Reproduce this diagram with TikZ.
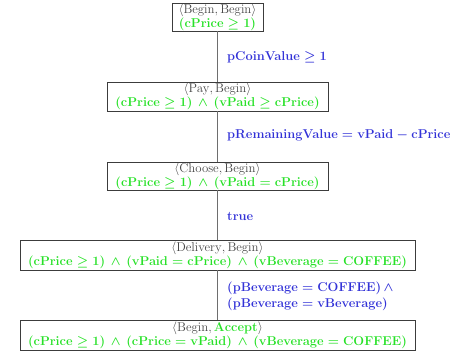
\RequirePackage{fix-cm}
\documentclass[tikz,border=0pt]{standalone}
\usepackage{amsmath,amssymb}
\definecolor{stgreen}{RGB}{40,225,40}
\definecolor{lblblue}{RGB}{50,50,215}
\definecolor{stgray}{RGB}{70,70,70}
\definecolor{boxgray}{RGB}{60,60,60}
\definecolor{linegray}{RGB}{110,110,110}
\tikzset{
  statebox/.style={draw=boxgray, line width=0.7pt, align=center, inner sep=0pt, font=\fontsize{12.8}{14}\selectfont\boldmath},
  lbl/.style={anchor=west, text=lblblue, align=left, inner sep=0pt, font=\fontsize{12.8}{16}\selectfont\boldmath},
  conn/.style={draw=linegray, line width=0.8pt}
}
\newcommand{\stname}[1]{{\color{stgray}\unboldmath$\langle\mathrm{#1}\rangle$}}
\newcommand{\gr}[1]{{\color{stgreen}$#1$}}
\newcommand{\AND}{\,\wedge\,}
\begin{document}
\begin{tikzpicture}[x=1pt,y=-1pt]
\useasboundingbox (0,0) rectangle (466,356);
\node[statebox, minimum width=91pt, minimum height=28pt] (s1) at (217.5,17)
  {\stname{Begin, Begin}\\\gr{(\mathbf{cPrice}\geq\mathbf{1})}};
\node[statebox, minimum width=221pt, minimum height=29pt] (s2) at (217.5,96.5)
  {\stname{Pay, Begin}\\\gr{(\mathbf{cPrice}\geq\mathbf{1})\AND(\mathbf{vPaid}\geq\mathbf{cPrice})}};
\node[statebox, minimum width=221pt, minimum height=28pt] (s3) at (217.5,176)
  {\stname{Choose, Begin}\\\gr{(\mathbf{cPrice}\geq\mathbf{1})\AND(\mathbf{vPaid}=\mathbf{cPrice})}};
\node[statebox, minimum width=395pt, minimum height=30pt] (s4) at (217.5,255)
  {\stname{Delivery, Begin}\\\gr{(\mathbf{cPrice}\geq\mathbf{1})\AND(\mathbf{vPaid}=\mathbf{cPrice})\AND(\mathbf{vBeverage}=\mathbf{COFFEE})}};
\node[statebox, minimum width=395pt, minimum height=30pt] (s5) at (217.5,335)
  {{\color{stgray}\unboldmath$\langle\mathrm{Begin},$}\,{\color{stgreen}$\mathbf{Accept}$}{\color{stgray}\unboldmath$\rangle$}\\\gr{(\mathbf{cPrice}\geq\mathbf{1})\AND(\mathbf{cPrice}=\mathbf{vPaid})\AND(\mathbf{vBeverage}=\mathbf{COFFEE})}};
\draw[conn] (s1) -- (s2);
\draw[conn] (s2) -- (s3);
\draw[conn] (s3) -- (s4);
\draw[conn] (s4) -- (s5);
\node[lbl] (l1) at (227,57) {$\mathbf{pCoinValue}\geq\mathbf{1}$};
\node[lbl] (l2) at (227,135) {$\mathbf{pRemainingValue}=\mathbf{vPaid}-\mathbf{cPrice}$};
\node[lbl] (l3) at (227,216) {$\mathbf{true}$};
\node[lbl] (l4) at (227,296) {$(\mathbf{pBeverage}=\mathbf{COFFEE})\AND$\\$(\mathbf{pBeverage}=\mathbf{vBeverage})$};
\end{tikzpicture}
\end{document}
